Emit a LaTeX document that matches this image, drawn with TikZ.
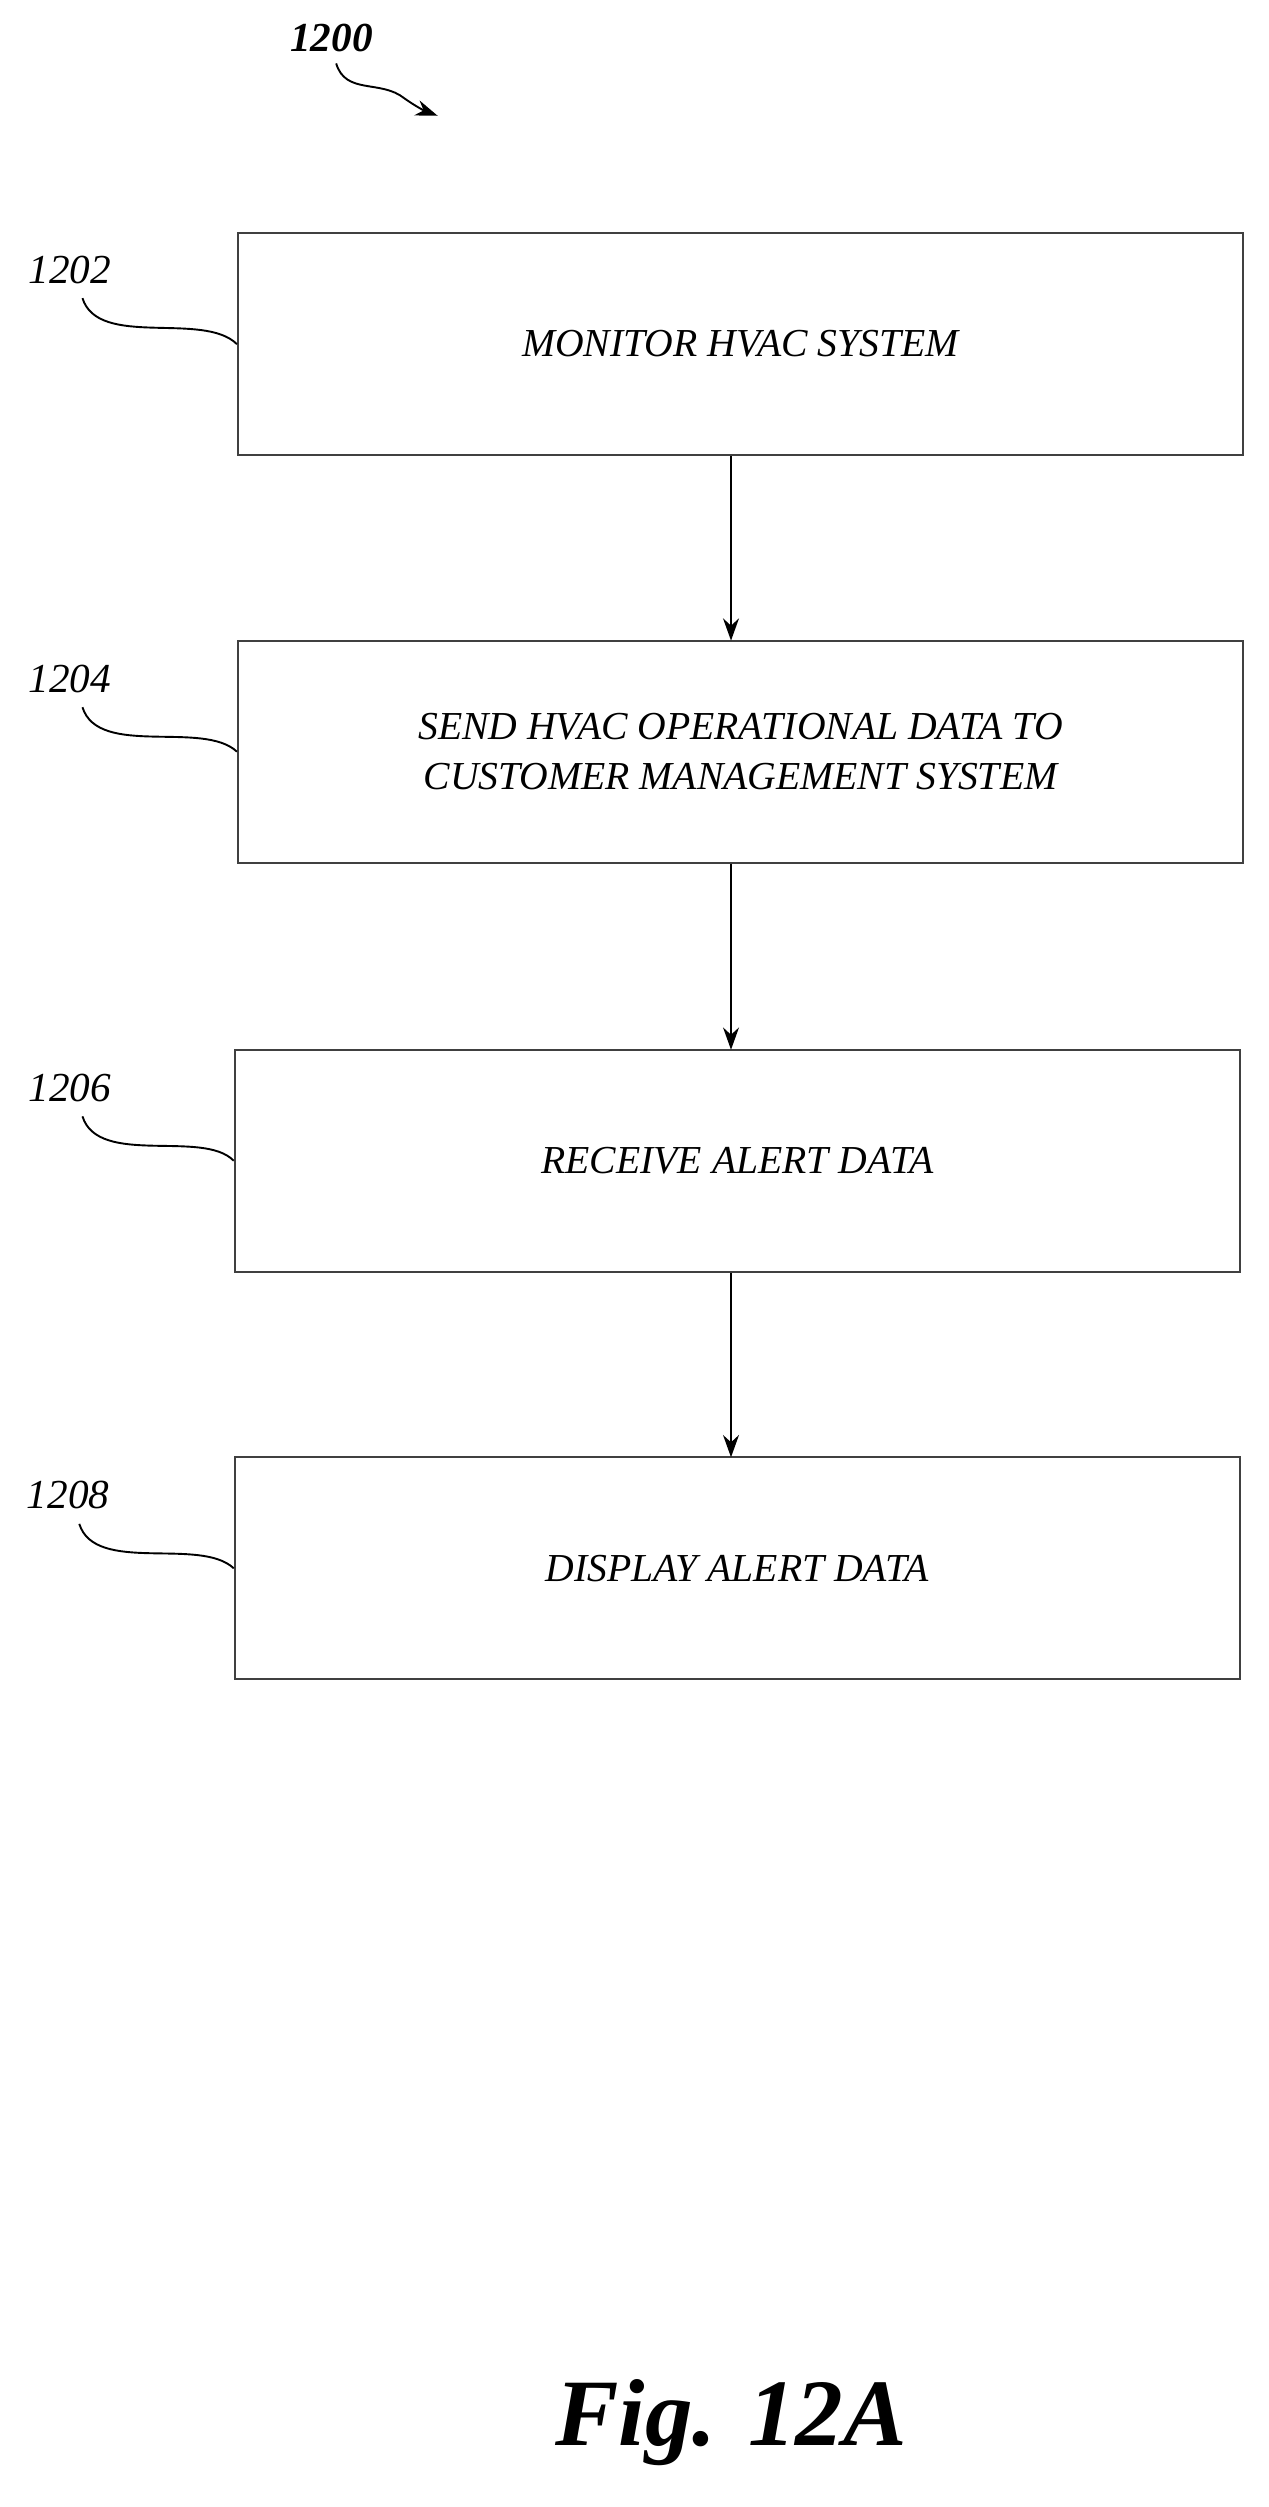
\documentclass[tikz,border=0pt]{standalone}
\usepackage{fontspec}
\setmainfont{Liberation Serif}
\usetikzlibrary{arrows.meta}
\begin{document}
\begin{tikzpicture}[x=0.5pt,y=-0.5pt,
  box/.style={draw=black!75,line width=0.6pt,minimum width=317pt,minimum height=70pt,align=center,font=\itshape\fontsize{12.5}{16}\selectfont,inner sep=0pt},
  arr/.style={-{Stealth[length=7pt,width=5pt]},line width=0.8pt},
  lbl/.style={font=\itshape\fontsize{13}{14}\selectfont,inner sep=0pt},
  lead/.style={line width=0.6pt}]
\useasboundingbox (0,0) rectangle (800,1581);
\node[box] (b1) at (467,217) {MONITOR HVAC SYSTEM};
\node[box] (b2) at (467,474) {SEND HVAC OPERATIONAL DATA TO\\CUSTOMER MANAGEMENT SYSTEM};
\node[box] (b3) at (465,732) {RECEIVE ALERT DATA};
\node[box] (b4) at (465,989) {DISPLAY ALERT DATA};
\draw[arr] (b1.south -| 461,0) -- (461,404);
\draw[arr] (b2.south -| 461,0) -- (461,662);
\draw[arr] (b3.south -| 461,0) -- (461,919);
\node[lbl] (l0) at (209,24) {\bfseries 1200};
\coordinate (t0) at (276,73);
\draw[lead,-{Stealth[length=7pt,width=5pt]}] (212,40) .. controls (218,60) and (240,50) .. (255,62) .. controls (262,67) and (268,70) .. (t0);
\node[lbl] (l1) at (44,170) {1202};
\node[lbl] (l2) at (44,428) {1204};
\node[lbl] (l3) at (44,686) {1206};
\node[lbl] (l4) at (43,943) {1208};
\draw[lead] (52,188) .. controls (62,220) and (128,196) .. (b1.west);
\draw[lead] (52,446) .. controls (62,478) and (128,454) .. (b2.west);
\draw[lead] (52,704) .. controls (62,736) and (128,712) .. (b3.west);
\draw[lead] (50,961) .. controls (60,993) and (126,969) .. (b4.west);
\node[font=\bfseries\itshape\fontsize{30}{34}\selectfont,inner sep=0pt] (fig) at (461,1528) {Fig. 12A};
\end{tikzpicture}
\end{document}
